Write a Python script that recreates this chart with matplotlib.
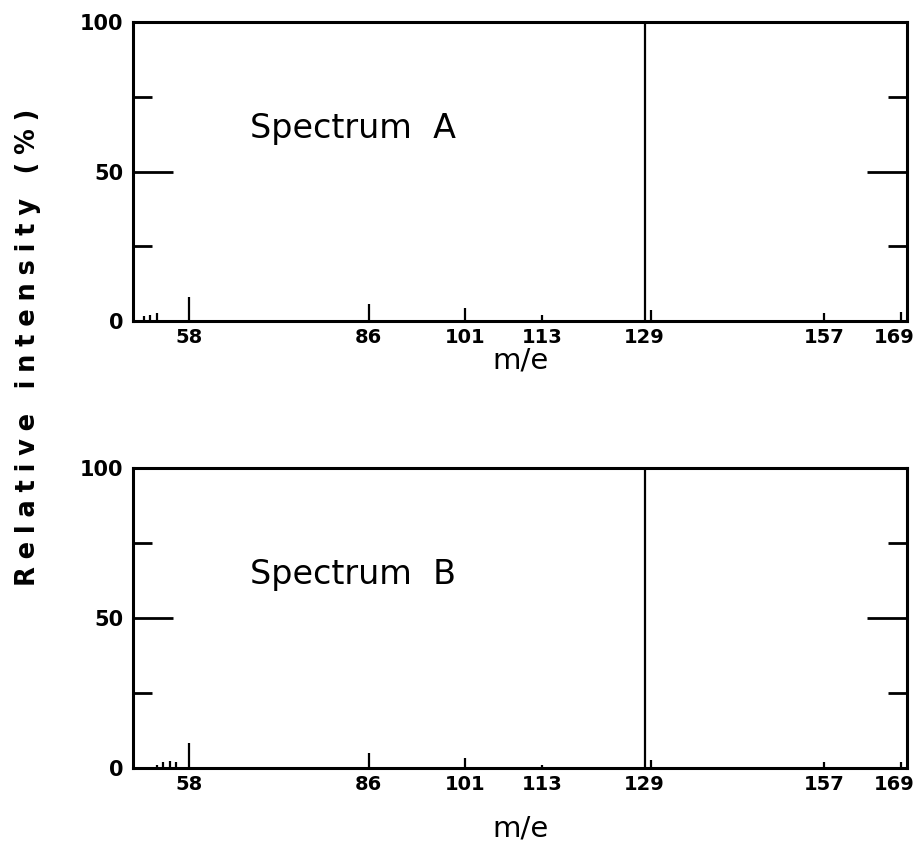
import matplotlib.pyplot as plt
from matplotlib.transforms import ScaledTranslation

# spectrum A (top)
mz_a = [51, 52, 53, 58, 86, 101, 113, 129, 130, 157, 169]
int_a = [1.5, 2, 2.5, 8, 5.7, 4.5, 2, 100, 3.7, 2.5, 3]
# spectrum B (bottom)
mz_b = [53, 54, 55, 56, 58, 86, 101, 113, 129, 130, 157, 169]
int_b = [1, 2, 2.5, 2, 8.4, 5, 3.5, 1, 100, 2.7, 2, 2]

x_ticks = [58, 86, 101, 113, 129, 157, 169]
y_ticks = [0, 50, 100]
y_minor = [25, 75]

plt.rcParams['font.family'] = ['DejaVu Sans']
plt.rcParams['font.weight'] = 'bold'

fig = plt.figure(figsize=(9.2, 8.48), dpi=100)
ax1 = fig.add_axes([0.1446, 0.6215, 0.8413, 0.3525])
ax2 = fig.add_axes([0.1446, 0.0943, 0.8413, 0.3538])


def draw(ax, mz, inten, name, lpad):
    ax.vlines(mz, 0, inten, colors='k', lw=1.6)
    ax.set_xlim(49.3, 169.9)
    ax.set_ylim(0, 100)
    for s in ax.spines.values():
        s.set_linewidth(2.2)
    ax.set_xticks(x_ticks)
    ax.set_xticklabels([str(t) for t in x_ticks], fontsize=14)
    ax.tick_params(axis='x', length=0, pad=5)
    # keep last label inside the figure
    last = ax.get_xticklabels()[-1]
    last.set_transform(last.get_transform() +
                       ScaledTranslation(-5 / 72, 0, fig.dpi_scale_trans))
    ax.set_yticks(y_ticks)
    ax.set_yticklabels(['0', '50', '100'], fontsize=15)
    ax.set_yticks(y_minor, minor=True)
    ax.tick_params(axis='y', which='major', direction='in', length=29,
                   width=2, left=True, right=True, pad=7)
    ax.tick_params(axis='y', which='minor', direction='in', length=14,
                   width=2, left=True, right=True)
    ax.set_xlabel('m/e', fontsize=21, labelpad=lpad)
    ax.text(0.151, 0.645, name, transform=ax.transAxes, fontsize=24,
            fontweight='normal', va='center')


draw(ax1, mz_a, int_a, 'Spectrum  A', 0)
draw(ax2, mz_b, int_b, 'Spectrum  B', 15)

fig.text(0.03, 0.59, '\u2009\u200a'.join('Relative intensity (%)'),
         rotation=90, va='center', ha='center', fontsize=18.5)

fig.savefig('out.png', dpi=100)
